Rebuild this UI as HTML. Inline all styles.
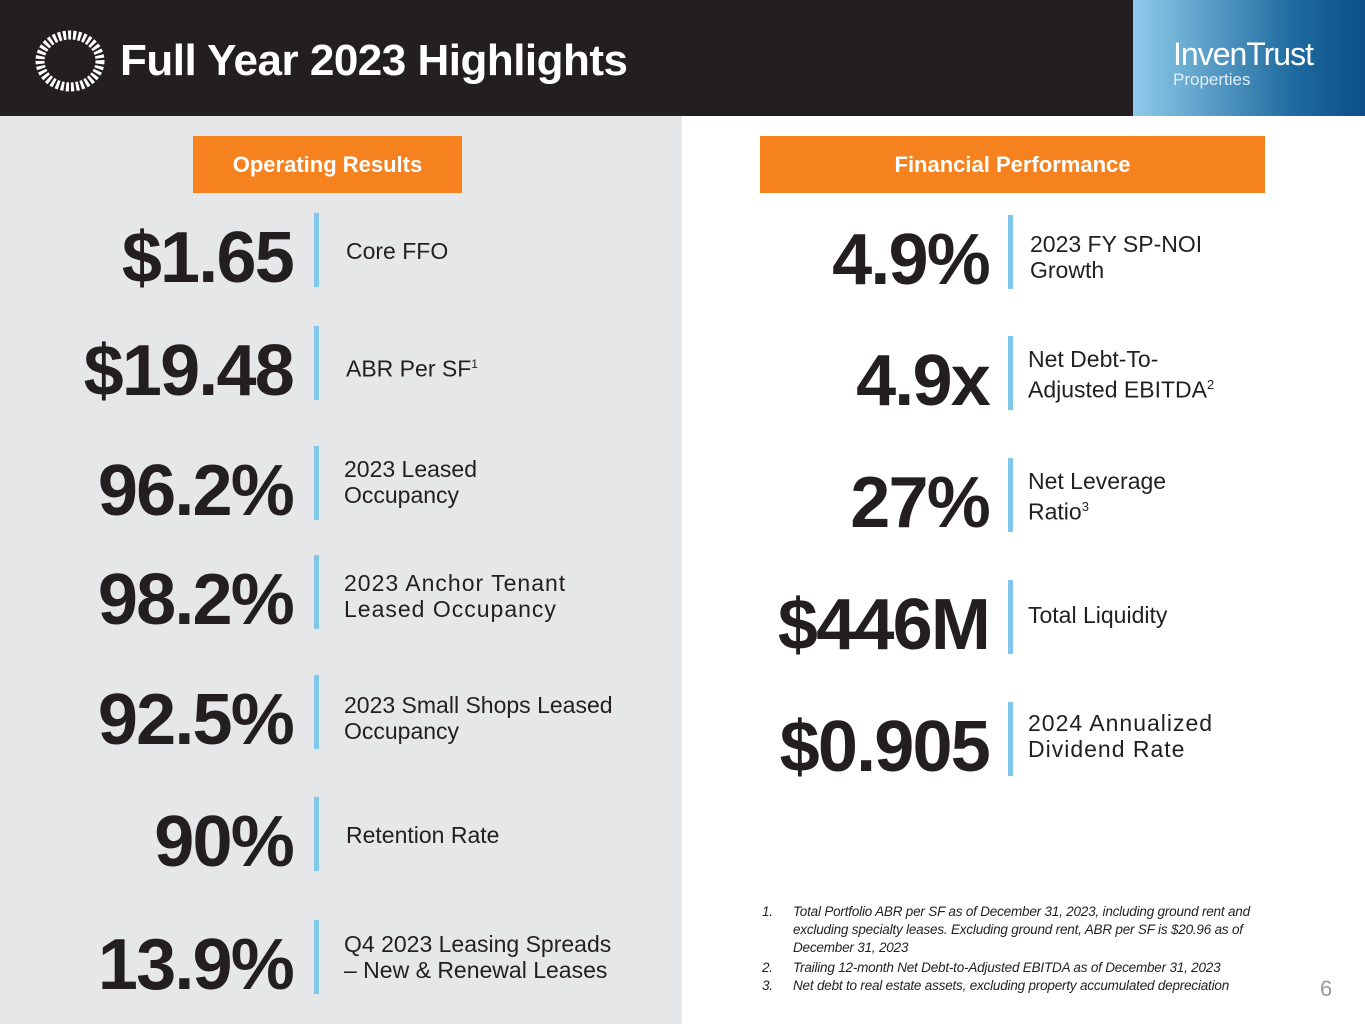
<!DOCTYPE html>
<html><head><meta charset="utf-8"><style>
*{margin:0;padding:0;box-sizing:border-box}
body{width:1365px;height:1024px;position:relative;overflow:hidden;font-family:"Liberation Sans",sans-serif;background:#fff}
.abs{position:absolute}
.num{position:absolute;font-weight:bold;font-size:72px;letter-spacing:-1.8px;color:#231f20;text-align:right;line-height:1}
.bar{position:absolute;width:5px;height:74px;background:#7fc8ec}
.lbl{position:absolute;font-size:23px;color:#231f20;line-height:26px}
.fn{position:absolute;font-style:italic;font-size:13.5px;color:#231f20;letter-spacing:-0.2px;line-height:18px}
</style></head><body>
<div class="abs" style="left:0;top:0;width:1365px;height:116px;background:#231f20"></div>
<svg class="abs" style="left:33px;top:30px" width="74" height="62" viewBox="0 0 74 62">
<ellipse cx="37" cy="31" rx="30" ry="26" fill="none" stroke="#fff" stroke-width="9" stroke-dasharray="3 2"/>
<ellipse cx="37" cy="31" rx="20" ry="17" fill="#231f20"/>
</svg>
<div class="abs" style="left:120px;top:36px;font-size:44px;font-weight:bold;color:#fff;letter-spacing:-0.5px">Full Year 2023 Highlights</div>
<div class="abs" style="left:1133px;top:0;width:232px;height:116px;background:linear-gradient(90deg,#8fcbea,#1d6a9f 70%,#0b4f86)">
<div class="abs" style="left:40px;top:36px;font-size:32px;color:#fff;letter-spacing:-1px">InvenTrust</div>
<div class="abs" style="left:40px;top:70px;font-size:17px;color:#e0f0fa">Properties</div>
</div>
<div class="abs" style="left:0;top:116px;width:682px;height:908px;background:#e6e7e8"></div>
<div class="abs" style="left:193px;top:136px;width:269px;height:57px;background:#f5821f;color:#fff;font-weight:bold;font-size:22px;text-align:center;line-height:57px">Operating Results</div>
<div class="abs" style="left:760px;top:136px;width:505px;height:57px;background:#f5821f;color:#fff;font-weight:bold;font-size:22px;text-align:center;line-height:57px">Financial Performance</div>

<div class="num" style="right:1072px;top:222px">$1.65</div>
<div class="bar" style="left:314px;top:213px"></div>
<div class="lbl" style="left:346px;top:238px">Core FFO</div>

<div class="num" style="right:1072px;top:335px">$19.48</div>
<div class="bar" style="left:314px;top:326px"></div>
<div class="lbl" style="left:346px;top:351px">ABR Per SF<sup style="font-size:12px">1</sup></div>

<div class="num" style="right:1072px;top:455px">96.2%</div>
<div class="bar" style="left:314px;top:446px"></div>
<div class="lbl" style="left:344px;top:456px">2023 Leased<br>Occupancy</div>

<div class="num" style="right:1072px;top:564px">98.2%</div>
<div class="bar" style="left:314px;top:555px"></div>
<div class="lbl" style="left:344px;top:570px;letter-spacing:1px">2023 Anchor Tenant<br>Leased Occupancy</div>

<div class="num" style="right:1072px;top:684px">92.5%</div>
<div class="bar" style="left:314px;top:675px"></div>
<div class="lbl" style="left:344px;top:692px">2023 Small Shops Leased<br>Occupancy</div>

<div class="num" style="right:1072px;top:806px">90%</div>
<div class="bar" style="left:314px;top:797px"></div>
<div class="lbl" style="left:346px;top:822px">Retention Rate</div>

<div class="num" style="right:1072px;top:929px">13.9%</div>
<div class="bar" style="left:314px;top:920px"></div>
<div class="lbl" style="left:344px;top:931px">Q4 2023 Leasing Spreads<br>– New &amp; Renewal Leases</div>

<div class="num" style="right:376px;top:224px">4.9%</div>
<div class="bar" style="left:1008px;top:215px"></div>
<div class="lbl" style="left:1030px;top:231px">2023 FY SP-NOI<br>Growth</div>

<div class="num" style="right:376px;top:345px">4.9x</div>
<div class="bar" style="left:1008px;top:336px"></div>
<div class="lbl" style="left:1028px;top:346px">Net Debt-To-<br>Adjusted EBITDA<sup style="font-size:13px">2</sup></div>

<div class="num" style="right:376px;top:467px">27%</div>
<div class="bar" style="left:1008px;top:458px"></div>
<div class="lbl" style="left:1028px;top:468px">Net Leverage<br>Ratio<sup style="font-size:13px">3</sup></div>

<div class="num" style="right:376px;top:589px">$446M</div>
<div class="bar" style="left:1008px;top:580px"></div>
<div class="lbl" style="left:1028px;top:602px">Total Liquidity</div>

<div class="num" style="right:376px;top:711px">$0.905</div>
<div class="bar" style="left:1008px;top:702px"></div>
<div class="lbl" style="left:1028px;top:710px;letter-spacing:1px">2024 Annualized<br>Dividend Rate</div>

<div>
<div class="fn" style="left:762px;top:903px">1.</div>
<div class="fn" style="left:793px;top:903px;width:475px">Total Portfolio ABR per SF as of December 31, 2023, including ground rent and excluding specialty leases. Excluding ground rent, ABR per SF is $20.96 as of December 31, 2023</div>
<div class="fn" style="left:762px;top:959px">2.</div>
<div class="fn" style="left:793px;top:959px">Trailing 12-month Net Debt-to-Adjusted EBITDA as of December 31, 2023</div>
<div class="fn" style="left:762px;top:977px">3.</div>
<div class="fn" style="left:793px;top:977px">Net debt to real estate assets, excluding property accumulated depreciation</div>
</div>
<div class="abs" style="left:1320px;top:976px;font-size:22px;color:#9a9a9a">6</div>
</body></html>
